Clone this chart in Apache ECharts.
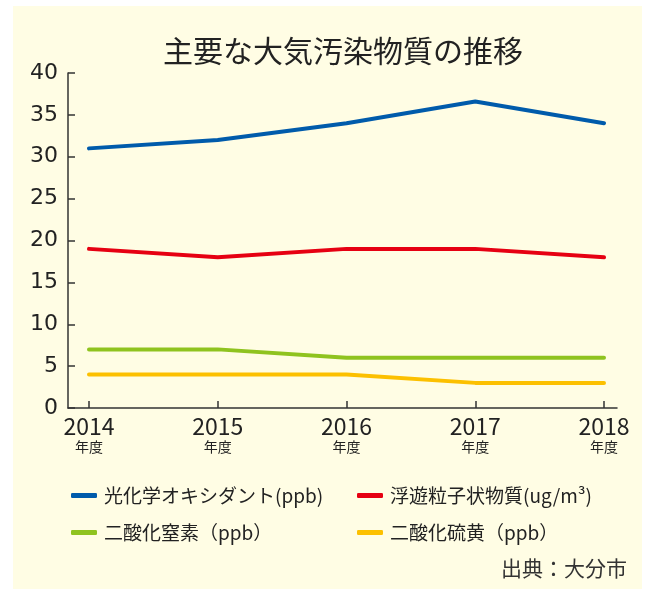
<!DOCTYPE html>
<html><head><meta charset="utf-8">
<script src="https://cdn.jsdelivr.net/npm/echarts@6/dist/echarts.min.js"></script>
<style>
html,body{margin:0;padding:0;background:#fff;width:646px;height:589px;overflow:hidden;}
#bg{position:absolute;left:13px;top:6px;width:629px;height:583px;background:#fffde4;}
#c{position:absolute;left:0;top:0;width:646px;height:589px;}
</style>
</head><body><div id="bg"></div><div id="c"></div>
<script>
const years = ['2014', '2015', '2016', '2017', '2018'];
const yearSuffix = '年度';
const oxidant = [31, 32, 34, 36.6, 34];
const spm = [19, 18, 19, 19, 18];
const no2 = [7, 7, 6, 6, 6];
const so2 = [4, 4, 4, 3, 3];
const names = ['光化学オキシダント(ppb)', '浮遊粒子状物質(ug/m³)', '二酸化窒素（ppb）', '二酸化硫黄（ppb）'];
const colors = ['#005bab', '#e60012', '#8fc31f', '#fcc000'];

const F = 'Noto Sans CJK JP';
const chart = echarts.init(document.getElementById('c'), null, {renderer: 'canvas'});
const mk = (i, data) => ({
  name: names[i], type: 'line', xAxisIndex: 1, yAxisIndex: 1, data: data,
  symbol: 'none', color: colors[i],
  lineStyle: {width: 4, color: colors[i], cap: 'round', join: 'round'},
  silent: true, animation: false
});
const legendStyle = {fontSize: 19, color: '#222', fontFamily: F, padding: [0, 0, 0, 2]};
chart.setOption({
  backgroundColor: 'transparent',
  animation: false,
  textStyle: {fontFamily: F},
  title: [
    {text: '主要な大気汚染物質の推移', left: 158, top: 31,
     textStyle: {fontSize: 30, fontWeight: 'normal', color: '#222', fontFamily: F}},
    {text: '出典：大分市', right: 14, top: 553,
     textStyle: {fontSize: 21, fontWeight: 'normal', color: '#333', fontFamily: F}}
  ],
  grid: [
    {left: 68, right: 29, top: 73, height: 335},
    {left: 89, right: 42, top: 73, height: 335}
  ],
  xAxis: [
    {type: 'value', gridIndex: 0, min: 0, max: 1,
     axisLine: {show: true, lineStyle: {color: '#333', width: 1.5}},
     axisTick: {show: false}, axisLabel: {show: false}, splitLine: {show: false}},
    {type: 'category', gridIndex: 1, data: years, boundaryGap: false,
     axisLine: {show: false},
     axisTick: {show: true, inside: true, length: 7, lineStyle: {color: '#333', width: 1.5}},
     axisLabel: {margin: 6, color: '#222', fontFamily: F,
       formatter: v => '{y|' + v + '}\n{s|' + yearSuffix + '}',
       rich: {y: {fontSize: 23, lineHeight: 24, fontFamily: F, color: '#222'},
              s: {fontSize: 14, lineHeight: 18, fontFamily: F, color: '#222'}}},
     splitLine: {show: false}}
  ],
  yAxis: [
    {type: 'value', gridIndex: 0, min: 0, max: 40, interval: 5,
     axisLine: {show: true, lineStyle: {color: '#333', width: 1.5}},
     axisTick: {show: true, inside: true, length: 7, lineStyle: {color: '#333', width: 1.5}},
     axisLabel: {fontSize: 22, color: '#222', margin: 10, fontFamily: 'DejaVu Sans'},
     splitLine: {show: false}},
    {type: 'value', gridIndex: 1, min: 0, max: 40, interval: 5, show: false,
     splitLine: {show: false}}
  ],
  legend: [
    {data: [names[0], names[2]], orient: 'vertical', left: 66, top: 481,
     icon: 'roundRect', itemWidth: 26, itemHeight: 5, itemGap: 18,
     selectedMode: false, textStyle: legendStyle},
    {data: [names[1], names[3]], orient: 'vertical', left: 352, top: 481,
     icon: 'roundRect', itemWidth: 26, itemHeight: 5, itemGap: 18,
     selectedMode: false, textStyle: legendStyle}
  ],
  series: [mk(0, oxidant), mk(1, spm), mk(2, no2), mk(3, so2)]
});
</script>
</body></html>
